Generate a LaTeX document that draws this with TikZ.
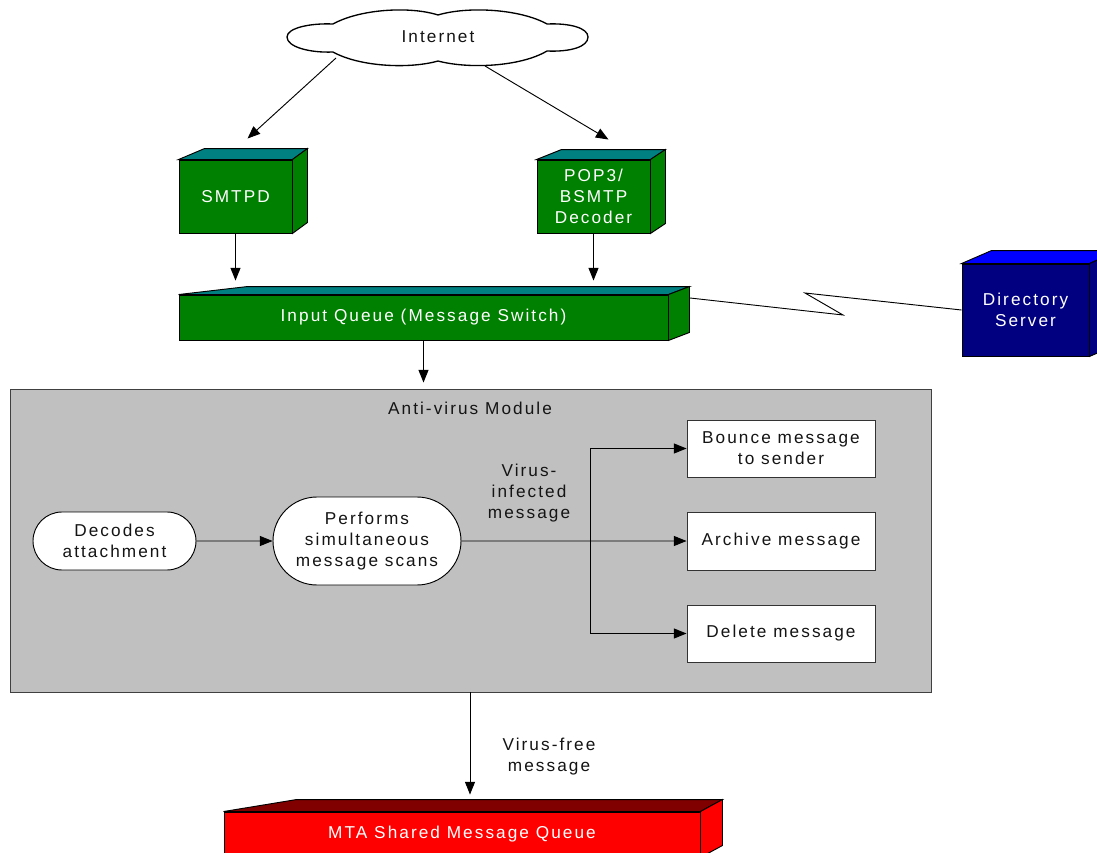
\documentclass[tikz,border=0pt]{standalone}
\usepackage{fontspec}
\setmainfont{Liberation Sans}[LetterSpace=12]
\usetikzlibrary{arrows.meta,calc,shapes.misc}
\definecolor{vgreen}{RGB}{0,128,0}
\definecolor{vteal}{RGB}{0,128,128}
\definecolor{vnavy}{RGB}{0,0,128}
\definecolor{vblue}{RGB}{0,0,255}
\definecolor{vred}{RGB}{255,0,0}
\definecolor{vmaroon}{RGB}{128,0,0}
\definecolor{vgray}{RGB}{192,192,192}
\definecolor{vtext}{RGB}{20,20,20}
\newcommand{\cubefaces}[6]{%
  \filldraw[fill=#5,draw=black,line width=0.7pt] (#1.north west) -- ++(#2,-#4) -- ($(#1.north east)+(#3,-#4)$) -- (#1.north east) -- cycle;
  \filldraw[fill=#6,draw=black,line width=0.7pt] (#1.north east) -- ++(#3,-#4) -- ($(#1.south east)+(#3,-#4)$) -- (#1.south east) -- cycle;}
\tikzset{
  txt/.style={font=\fontsize{12.9}{15.75}\selectfont, align=center, text=vtext},
  wtxt/.style={font=\fontsize{12.9}{15.75}\selectfont, align=center, text=white},
  front/.style={draw=black, line width=0.7pt, rectangle, inner sep=0pt},
  wbox/.style={draw=black!80, line width=0.7pt, fill=white, rectangle, inner sep=0pt, minimum width=141pt, txt},
  pill/.style={draw=black, line width=0.7pt, fill=white, rounded rectangle, inner sep=0pt, txt},
  conn/.style={line width=0.7pt, draw=black},
  arr/.style={conn, -{Triangle[length=9.5pt,width=7.5pt]}},
}
\begin{document}
\begin{tikzpicture}[x=0.75pt,y=-0.75pt]
\useasboundingbox (0,0) rectangle (1097,853);
\fill[white] (0,0) rectangle (1097,853);
\begin{scope}
\clip (0,0) rectangle (1097,853);

% Cloud
\filldraw[fill=white,draw=black,line width=1pt]
  (287,37) .. controls (287,28) and (310,23) .. (333,24)
  .. controls (360,9) and (410,6) .. (438,15)
  .. controls (468,6) and (520,9) .. (547,24)
  .. controls (570,23) and (588,28) .. (588,37)
  .. controls (588,47) and (570,52) .. (547,51)
  .. controls (520,67) and (468,69) .. (438,61)
  .. controls (410,69) and (360,67) .. (333,52)
  .. controls (310,53) and (287,47) .. (287,37) -- cycle;
\node[txt] (internet) at (438,37) {Internet};
\coordinate (c1) at (336,58);
\coordinate (c2) at (485,66);

% SMTPD and POP3 boxes
\node[front, fill=vgreen, minimum width=84.75pt, minimum height=54.75pt, wtxt] (smtpd) at (235.5,196.5) {SMTPD};
\cubefaces{smtpd}{26}{15}{11}{vteal}{vgreen}
\node[front, fill=vgreen, minimum width=84.75pt, minimum height=54.75pt, wtxt] (pop) at (593.5,196.5) {POP3/\\BSMTP\\Decoder};
\cubefaces{pop}{25}{15}{10}{vteal}{vgreen}

% Input queue
\node[front, fill=vgreen, minimum width=366.75pt, minimum height=33.75pt, wtxt] (iq) at (423.5,317.5) {Input Queue (Message Switch)};
\cubefaces{iq}{69}{21}{8}{vteal}{vgreen}

% Directory server
\node[front, fill=vnavy, minimum width=95.25pt, minimum height=69pt, wtxt] (dir) at (1025.5,310) {Directory\\Server};
\cubefaces{dir}{30}{30}{13}{vblue}{vnavy}

% Cloud arrows
\draw[arr] (c1) -- ($(smtpd.north)+(12,-21)$);
\draw[arr] (c2) -- ($(pop.north)+(15,-20)$);

% Down arrows to input queue
\draw[arr] (smtpd.south) -- ($(smtpd.south |- iq.north)+(0,-14)$);
\draw[arr] (pop.south) -- ($(pop.south |- iq.north)+(0,-14)$);

% Lightning link
\coordinate (z0) at (690,298);
\coordinate (z1) at (843,315);
\coordinate (z2) at (805,293);
\draw[conn] (z0) -- (z1) -- (z2) -- (dir.west);

% Anti-virus module
\node[draw=black!75, line width=0.7pt, fill=vgray, rectangle, inner sep=0pt, minimum width=690.75pt, minimum height=227.25pt] (av) at (470.5,540.5) {};
\node[txt] (avlabel) at (470,408) {Anti-virus Module};
\draw[arr] (iq.south) -- ($(iq.south |- av.north)+(0,-6)$);

\node[pill, minimum width=122.25pt, minimum height=43.5pt] (dec) at (114.5,541) {Decodes\\attachment};
\node[pill, minimum width=141pt, minimum height=66pt] (perf) at (367,541) {Performs\\simultaneous\\message scans};
\node[wbox, minimum height=42.75pt] (bounce) at (781,448.5) {Bounce message\\to sender};
\node[wbox, minimum height=43.5pt] (arch) at (781,541) {Archive message};
\node[wbox, minimum height=42.75pt] (del) at (781,633.5) {Delete message};

\draw[arr] (dec) -- (perf);
\draw[arr] (perf) -- (arch);
\coordinate (split) at (590,541);
\draw[arr] (split) |- (bounce.west);
\draw[arr] (split) |- (del.west);
\node[txt] (vinf) at (529,493) {Virus-\\infected\\message};

% MTA queue
\node[front, fill=vred, minimum width=357pt, minimum height=33.75pt, wtxt] (mta) at (462,834.5) {MTA Shared Message Queue};
\cubefaces{mta}{73}{22}{12}{vmaroon}{vred}
\coordinate (avout) at (470,692);
\draw[arr] (avout) -- ($(avout |- mta.north)+(0,-17)$);
\node[txt] (vfree) at (549,757) {Virus-free\\message};
\end{scope}
\end{tikzpicture}
\end{document}
